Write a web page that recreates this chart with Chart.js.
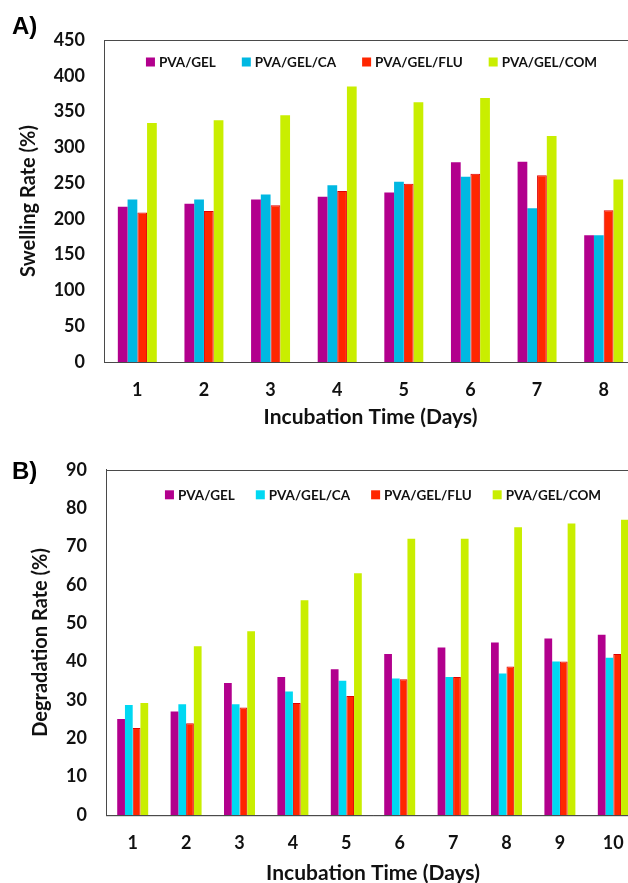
<!DOCTYPE html>
<html>
<head>
<meta charset="utf-8">
<script src="https://cdn.jsdelivr.net/npm/chart.js@4.4.1/dist/chart.umd.min.js"></script>
<style>
  html, body { margin:0; padding:0; background:#fff; }
  body { width:628px; height:883px; overflow:hidden; position:relative; }
  .wrap { position:absolute; left:0; }
</style>
</head>
<body>
<div class="wrap" style="top:0;width:660px;height:440px"><canvas id="c1" width="660" height="440"></canvas></div>
<div class="wrap" style="top:440px;width:660px;height:470px"><canvas id="c2" width="660" height="470"></canvas></div>
<script>
// ---------- data ----------
const seriesNames = ['PVA/GEL', 'PVA/GEL/CA', 'PVA/GEL/FLU', 'PVA/GEL/COM'];

const swellDays = ['1', '2', '3', '4', '5', '6', '7', '8'];
const swellGel = [217, 221, 227, 231, 237, 279, 280, 177];
const swellCa  = [227, 227, 234, 247, 252, 259, 215, 177];
const swellFlu = [209, 211, 219, 239, 249, 263, 261, 212];
const swellCom = [334, 338, 345, 385, 363, 369, 316, 255];

const degDays = ['1', '2', '3', '4', '5', '6', '7', '8', '9', '10'];
const degGel = [25, 27, 34.4, 36, 38, 42, 43.7, 45, 46, 47];
const degCa  = [28.7, 28.9, 28.9, 32.2, 35, 35.6, 36, 36.9, 40, 41];
const degFlu = [22.7, 23.9, 28, 29.2, 31, 35.4, 36, 38.7, 40, 42];
const degCom = [29.2, 44, 47.9, 56, 63, 72, 72, 75, 76, 77];

const swellTicks = { min: 0, max: 450, step: 50 };
const degTicks = { min: 0, max: 90, step: 10 };

// ---------- styling ----------
const FONT = 'Lato, "Open Sans", sans-serif';
const colGel = '#B2008D';
const colCaA = '#00B8E2';
const colCaB = '#00D8F2';
const colFlu = '#FF2600';
const colCom = '#C9EE00';

const panelAndFrame = {
  id: 'panelAndFrame',
  afterDatasetsDraw(chart, args, opts) {
    const ctx = chart.ctx;
    const a = chart.chartArea;
    ctx.save();
    ctx.strokeStyle = '#4a4a4a';
    ctx.lineWidth = 1;
    ctx.strokeRect(Math.round(a.left) + 0.5, Math.round(a.top) + 0.5, a.right - a.left, a.bottom - a.top);
    // panel letter
    ctx.fillStyle = '#000';
    ctx.font = 'bold 24px "Liberation Sans", Arial, sans-serif';
    ctx.textAlign = 'left';
    ctx.textBaseline = 'middle';
    ctx.fillText(opts.letter, opts.lx, opts.ly);
    // legend inside plot area
    const box = 9, gapBox = 4;
    ctx.font = 'bold 13.5px ' + FONT;
    const items = chart.data.datasets.map(d => ({ label: d.label, color: d.legendColor || d.backgroundColor, w: ctx.measureText(d.label).width }));
    let total = 0;
    items.forEach((it, i) => { total += box + gapBox + it.w + (i ? opts.gap : 0); });
    let x = (a.left + a.right) / 2 - total / 2 + opts.dx;
    const y = a.top + opts.dy;
    items.forEach(it => {
      ctx.fillStyle = it.color;
      ctx.fillRect(x, y - box / 2, box, box);
      ctx.fillStyle = '#111';
      ctx.fillText(it.label, x + box + gapBox, y + 1);
      x += box + gapBox + it.w + opts.gap;
    });
    ctx.restore();
  }
};

function makeChart(id, labels, sets, caColor, yT, cfg) {
  return new Chart(document.getElementById(id), {
    type: 'bar',
    data: {
      labels: labels,
      datasets: [
        { label: seriesNames[0], data: sets[0], backgroundColor: colGel },
        { label: seriesNames[1], data: sets[1], backgroundColor: caColor },
        { label: seriesNames[2], data: sets[2], backgroundColor: colFlu, borderColor: '#E00000', borderWidth: 1, legendColor: colFlu },
        { label: seriesNames[3], data: sets[3], backgroundColor: colCom }
      ]
    },
    plugins: [panelAndFrame],
    options: {
      responsive: false,
      animation: false,
      devicePixelRatio: 1,
      layout: { padding: { left: 0, top: cfg.top, right: cfg.right, bottom: 0 } },
      datasets: { bar: { categoryPercentage: cfg.catPct, barPercentage: 1 } },
      plugins: {
        legend: { display: false },
        tooltip: { enabled: false },
        panelAndFrame: cfg.legend
      },
      scales: {
        x: {
          grid: { display: false, drawTicks: false },
          border: { display: true, color: '#4a4a4a', width: 1 },
          ticks: { color: '#111', padding: 17, font: { family: FONT, weight: 'bold', size: 18 } },
          title: { display: true, text: 'Incubation Time (Days)', color: '#111',
                   font: { family: FONT, weight: 'bold', size: 21 }, padding: { top: 0, bottom: cfg.xTitlePad } },
          afterFit(s) { s.height = cfg.xHeight; }
        },
        y: {
          min: yT.min, max: yT.max,
          grid: { display: false, drawTicks: false },
          border: { display: true, color: '#4a4a4a', width: 1 },
          ticks: { stepSize: yT.step, color: '#111', padding: 19, font: { family: FONT, weight: 'bold', size: 18 } },
          title: { display: true, text: cfg.yTitle, color: '#111',
                   font: { family: FONT, weight: 'bold', size: 20 }, padding: { top: cfg.yTitlePad, bottom: 0 } },
          afterFit(s) { s.width = cfg.yWidth; }
        }
      }
    }
  });
}

makeChart('c1', swellDays, [swellGel, swellCa, swellFlu, swellCom], colCaA, swellTicks, {
  top: 40, right: 23, catPct: 0.585, xHeight: 78, xTitlePad: 10, yWidth: 104, yTitlePad: 17,
  yTitle: 'Swelling Rate (%)',
  legend: { letter: 'A)', lx: 12, ly: 27, gap: 26, dx: 1, dy: 22 }
});

makeChart('c2', degDays, [degGel, degCa, degFlu, degCom], colCaB, degTicks, {
  top: 28, right: 20, catPct: 0.58, xHeight: 95, xTitlePad: 24, yWidth: 106, yTitlePad: 29,
  yTitle: 'Degradation Rate (%)',
  legend: { letter: 'B)', lx: 12, ly: 32, gap: 21, dx: 10, dy: 25 }
});
</script>
</body>
</html>
